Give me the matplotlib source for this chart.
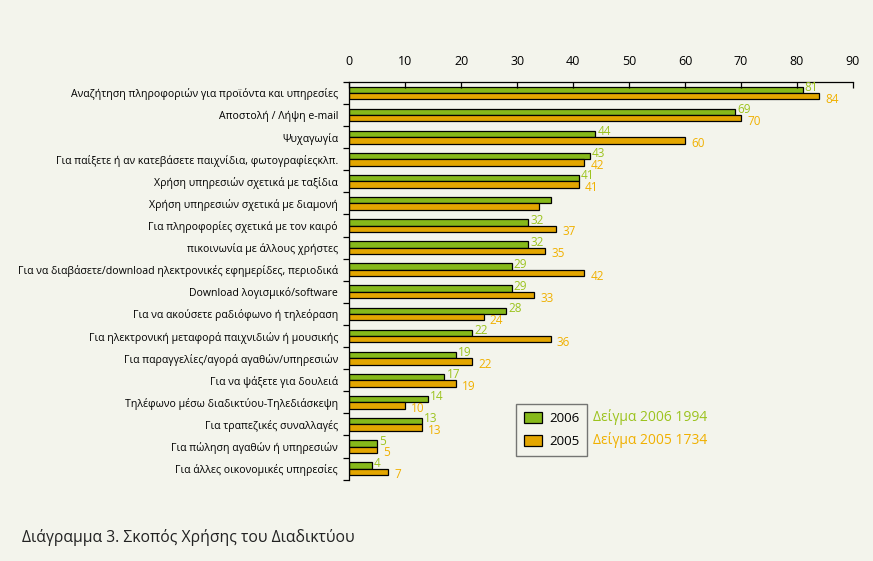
import numpy as np
import matplotlib
matplotlib.use('Agg')
import matplotlib.pyplot as plt

categories = [
    'Αναζήτηση πληροφοριών για προϊόντα και υπηρεσίες',
    'Αποστολή / Λήψη e-mail',
    'Ψυχαγωγία',
    'Για παίξετε ή αν κατεβάσετε παιχνίδια, φωτογραφίεςκλπ.',
    'Χρήση υπηρεσιών σχετικά με ταξίδια',
    'Χρήση υπηρεσιών σχετικά με διαμονή',
    'Για πληροφορίες σχετικά με τον καιρό',
    'πικοινωνία με άλλους χρήστες',
    'Για να διαβάσετε/download ηλεκτρονικές εφημερίδες, περιοδικά',
    'Download λογισμικό/software',
    'Για να ακούσετε ραδιόφωνο ή τηλεόραση',
    'Για ηλεκτρονική μεταφορά παιχνιδιών ή μουσικής',
    'Για παραγγελίες/αγορά αγαθών/υπηρεσιών',
    'Για να ψάξετε για δουλειά',
    'Τηλέφωνο μέσω διαδικτύου-Τηλεδιάσκεψη',
    'Για τραπεζικές συναλλαγές',
    'Για πώληση αγαθών ή υπηρεσιών',
    'Για άλλες οικονομικές υπηρεσίες',
]
vals_2006 = [81, 69, 44, 43, 41, 36, 32, 32, 29, 29, 28, 22, 19, 17, 14, 13, 5, 4]
vals_2005 = [84, 70, 60, 42, 41, 34, 37, 35, 42, 33, 24, 36, 22, 19, 10, 13, 5, 7]
show_label = [True] * 18
show_label[5] = False  # no numbers printed for this row

bg = '#f3f4ec'
green = '#86b91a'
orange = '#e3a600'
green_txt = '#9cc31e'
orange_txt = '#f0b000'
plt.rcParams['font.family'] = ['Open Sans', 'DejaVu Sans']

fig = plt.figure(figsize=(8.73, 5.61), dpi=100, facecolor=bg)
ax = fig.add_axes([0.400, 0.145, 0.577, 0.709], facecolor=bg)

y = np.arange(len(categories))
h = 0.29
ax.barh(y - h / 2, vals_2006, height=h, color=green, edgecolor='black', linewidth=0.9, label='2006')
ax.barh(y + h / 2, vals_2005, height=h, color=orange, edgecolor='black', linewidth=0.9, label='2005')

for i in range(len(categories)):
    if not show_label[i]:
        continue
    ax.text(vals_2006[i] + 0.4, y[i] - h / 2 - 0.1, str(vals_2006[i]), color=green_txt,
            fontsize=8.5, va='center', ha='left')
    ax.text(vals_2005[i] + 1.1, y[i] + h / 2 + 0.14, str(vals_2005[i]), color=orange_txt,
            fontsize=8.5, va='center', ha='left')

ax.set_xlim(0, 90)
ax.set_ylim(len(categories) - 0.5, -0.5)
ax.xaxis.tick_top()
ax.set_xticks(np.arange(0, 91, 10))
ax.tick_params(axis='x', direction='in', length=4, width=0.9, labelsize=9, pad=10)
ax.set_yticks(y)
ax.set_yticklabels(categories, fontsize=7.6)
ax.set_yticks(np.arange(len(categories) + 1) - 0.5, minor=True)
ax.tick_params(axis='y', which='major', length=0, pad=8)
ax.tick_params(axis='y', which='minor', direction='out', length=4, width=0.9)
for s in ['right', 'bottom']:
    ax.spines[s].set_visible(False)
ax.spines['top'].set_linewidth(0.9)
ax.spines['left'].set_linewidth(0.9)

leg = ax.legend(loc='upper left', bbox_to_anchor=(0.331, 0.19), borderaxespad=0, frameon=True,
                fontsize=9.5, handlelength=1.4, handleheight=0.9, borderpad=0.6, labelspacing=0.75,
                handletextpad=0.5, fancybox=False, edgecolor='#555555', facecolor=bg)
leg.get_frame().set_linewidth(1.0)

fig.text(593 / 873, 1 - 417 / 561, 'Δείγμα 2006 1994', color=green_txt, fontsize=10, va='center')
fig.text(593 / 873, 1 - 440 / 561, 'Δείγμα 2005 1734', color=orange_txt, fontsize=10, va='center')
fig.text(22 / 873, 1 - 537 / 561, 'Διάγραμμα 3. Σκοπός Χρήσης του Διαδικτύου', color='#222222',
         fontsize=11.3, va='center')

fig.savefig('out.png', dpi=100, facecolor=bg)
